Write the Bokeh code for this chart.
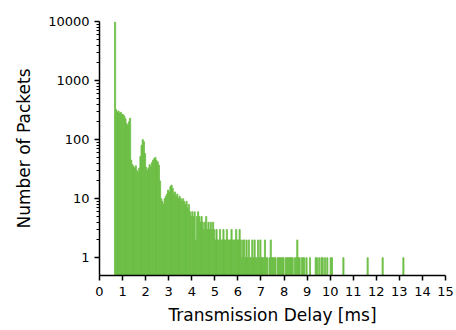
import numpy as np
from bokeh.plotting import figure
from bokeh.models import Range1d, FixedTicker, NumeralTickFormatter, ColumnDataSource
from bokeh.embed import file_html
from bokeh.resources import INLINE

# ---- data (histogram of transmission delay, 0.05 ms bins) ----
bin_width_ms = 0.05
first_bin_ms = 0.65
counts = [
    # 0.65 - 0.95
    9800, 320, 290, 305, 280, 290, 270,
    # 1.00 - 1.95
    265, 250, 225, 185, 175, 200, 230, 45, 38, 35, 33, 36, 30, 28, 33, 52, 80, 100, 92, 58,
    # 2.00 - 2.95
    34, 30, 33, 38, 35, 41, 45, 48, 50, 44, 42, 37, 20, 10, 9, 8, 10, 11, 12, 14,
    # 3.00 - 3.95
    13, 16, 17, 15, 12, 13, 11, 12, 10, 11, 10, 9, 10, 9, 8, 9, 7, 8, 6, 5,
    # 4.00 - 4.95
    6, 5, 6, 2, 5, 6, 5, 4, 5, 4, 3, 4, 5, 3, 4, 3, 4, 3, 4, 3,
    # 5.00 - 5.95
    2, 3, 2, 2, 3, 2, 2, 3, 2, 2, 3, 2, 2, 2, 3, 2, 2, 2, 3, 2,
    # 6.00 - 6.95
    2, 3, 2, 1, 2, 2, 1, 2, 1, 2, 1, 1, 2, 1, 2, 1, 1, 2, 1, 2,
    # 7.00 - 7.95
    1, 1, 1, 2, 1, 1, 0, 1, 2, 1, 1, 1, 1, 0, 1, 1, 1, 1, 1, 1,
    # 8.00 - 8.95
    0, 1, 1, 1, 1, 1, 1, 1, 0, 1, 1, 2, 1, 1, 0, 1, 1, 1, 0, 1,
    # 9.00 - 9.95
    0, 0, 1, 0, 0, 0, 0, 1, 1, 0, 1, 0, 1, 1, 0, 1, 0, 1, 0, 0,
    # 10.00 - 10.05
    1, 1,
]
tail_delays_ms = [10.55, 11.60, 12.25, 13.15]
tail_counts = [1, 1, 1, 1]

x_ticks = list(range(0, 16))
y_ticks = [1, 10, 100, 1000, 10000]
y_minor_ticks = [m * d for d in [1, 10, 100, 1000] for m in range(2, 10)]

GREEN = "#6cbe45"

# ---- build bins ----
lefts = [round(first_bin_ms + i * bin_width_ms, 3) for i in range(len(counts))] + tail_delays_ms
tops = counts + tail_counts
keep = [i for i, c in enumerate(tops) if c > 0]
src = ColumnDataSource(dict(
    left=[lefts[i] for i in keep],
    right=[round(lefts[i] + bin_width_ms, 3) for i in keep],
    top=[tops[i] for i in keep],
    bottom=[0.1 for _ in keep],
))

p = figure(width=456, height=329, output_backend="svg", toolbar_location=None,
           x_range=Range1d(0, 15), y_range=Range1d(0.5, 10000), y_axis_type="log",
           min_border_left=99, min_border_right=11, min_border_top=21, min_border_bottom=54)
p.outline_line_color = None
p.grid.visible = False
p.background_fill_color = "white"
p.border_fill_color = "white"

p.quad(left="left", right="right", top="top", bottom="bottom", source=src,
       fill_color=GREEN, line_color=GREEN, line_width=0.8)

for ax in (p.xaxis[0], p.yaxis[0]):
    ax.axis_line_color = "black"
    ax.axis_line_width = 1.5
    ax.major_tick_line_color = "black"
    ax.major_tick_line_width = 1.5
    ax.major_tick_in = 0
    ax.major_tick_out = 5
    ax.major_label_text_font = "DejaVu Sans"
    ax.major_label_text_font_size = "13px"
    ax.major_label_text_color = "black"
    ax.axis_label_text_font = "DejaVu Sans"
    ax.axis_label_text_font_size = "17px"
    ax.axis_label_text_font_style = "normal"
    ax.axis_label_text_color = "black"

p.xaxis.ticker = FixedTicker(ticks=x_ticks)
p.xaxis.minor_tick_line_color = None
p.xaxis.axis_label = "Transmission Delay [ms]"
p.xaxis.major_label_standoff = 6
p.xaxis.axis_label_standoff = 6

p.yaxis.ticker = FixedTicker(ticks=y_ticks, minor_ticks=y_minor_ticks)
p.yaxis.formatter = NumeralTickFormatter(format="0")
p.yaxis.minor_tick_line_color = "black"
p.yaxis.minor_tick_line_width = 1
p.yaxis.minor_tick_in = 0
p.yaxis.minor_tick_out = 3
p.yaxis.axis_label = "Number of Packets"
p.yaxis.major_label_standoff = 5
p.yaxis.axis_label_standoff = 11

open("out.html", "w").write(file_html(p, INLINE))
